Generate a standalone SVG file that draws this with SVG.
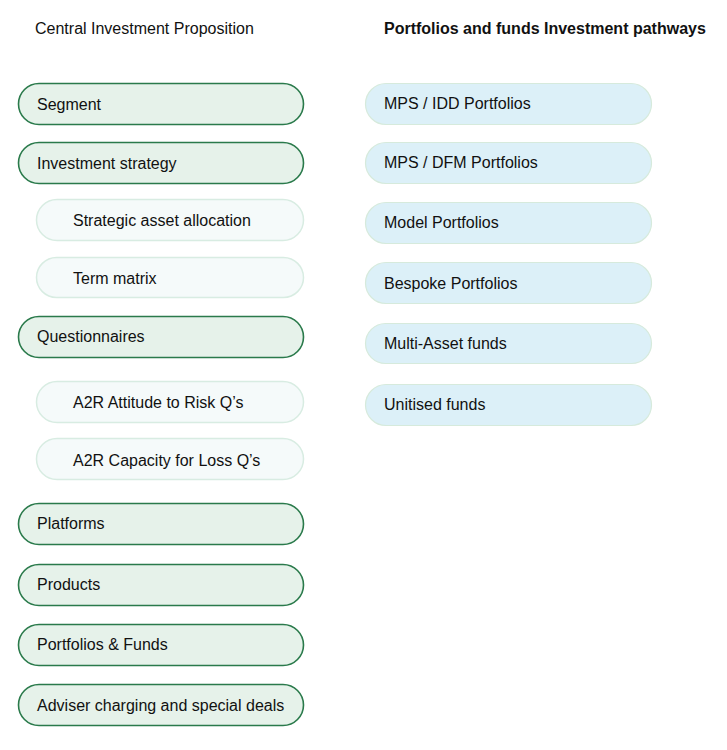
<svg xmlns="http://www.w3.org/2000/svg" width="727" height="750" viewBox="0 0 727 750">
<style>
text{font-family:"Liberation Sans",Arial,sans-serif;font-size:16px;fill:#111}
.h{font-weight:bold}
.m rect{fill:#e6f2ea;stroke:#2a7a4b;stroke-width:1.6}
.s rect{fill:#f5fafa;stroke:#d8ece2;stroke-width:1.5}
.b rect{fill:#dcf0f8;stroke:#d6eadc;stroke-width:1.2}
</style>
<rect width="727" height="750" fill="#fff"/>
<text x="35" y="34">Central Investment Proposition</text>
<text class="h" x="384" y="34">Portfolios and funds Investment pathways</text>
<g id="segment" class="m"><rect x="18.5" y="83.5" width="285" height="41" rx="20.5"/><text x="37" y="110">Segment</text></g>
<g id="investment-strategy" class="m"><rect x="18.5" y="142.5" width="285" height="41" rx="20.5"/><text x="37" y="169">Investment strategy</text></g>
<g id="saa" class="s"><rect x="36.5" y="199.5" width="267" height="41" rx="20.5"/><text x="73" y="226">Strategic asset allocation</text></g>
<g id="term-matrix" class="s"><rect x="36.5" y="257.5" width="267" height="40" rx="20"/><text x="73" y="284">Term matrix</text></g>
<g id="questionnaires" class="m"><rect x="18.5" y="316.5" width="285" height="41" rx="20.5"/><text x="37" y="342">Questionnaires</text></g>
<g id="a2r-risk" class="s"><rect x="36.5" y="381.5" width="267" height="41" rx="20.5"/><text x="73" y="408">A2R Attitude to Risk Q’s</text></g>
<g id="a2r-loss" class="s"><rect x="36.5" y="438.5" width="267" height="41" rx="20.5"/><text x="73" y="466">A2R Capacity for Loss Q’s</text></g>
<g id="platforms" class="m"><rect x="18.5" y="503.5" width="285" height="41" rx="20.5"/><text x="37" y="529">Platforms</text></g>
<g id="products" class="m"><rect x="18.5" y="564.5" width="285" height="41" rx="20.5"/><text x="37" y="590">Products</text></g>
<g id="portfolios-funds" class="m"><rect x="18.5" y="624.5" width="285" height="41" rx="20.5"/><text x="37" y="650">Portfolios &amp; Funds</text></g>
<g id="adviser-charging" class="m"><rect x="18.5" y="684.5" width="285" height="41" rx="20.5"/><text x="37" y="711">Adviser charging and special deals</text></g>
<g id="mps-idd" class="b"><rect x="365.5" y="83.5" width="286" height="41" rx="20.5"/><text x="384" y="109">MPS / IDD Portfolios</text></g>
<g id="mps-dfm" class="b"><rect x="365.5" y="142.5" width="286" height="41" rx="20.5"/><text x="384" y="168">MPS / DFM Portfolios</text></g>
<g id="model" class="b"><rect x="365.5" y="202.5" width="286" height="41" rx="20.5"/><text x="384" y="228">Model Portfolios</text></g>
<g id="bespoke" class="b"><rect x="365.5" y="262.5" width="286" height="41" rx="20.5"/><text x="384" y="289">Bespoke Portfolios</text></g>
<g id="multi-asset" class="b"><rect x="365.5" y="323.5" width="286" height="40" rx="20"/><text x="384" y="349">Multi-Asset funds</text></g>
<g id="unitised" class="b"><rect x="365.5" y="384.5" width="286" height="41" rx="20.5"/><text x="384" y="410">Unitised funds</text></g>
<g id="connectors"/>
</svg>
